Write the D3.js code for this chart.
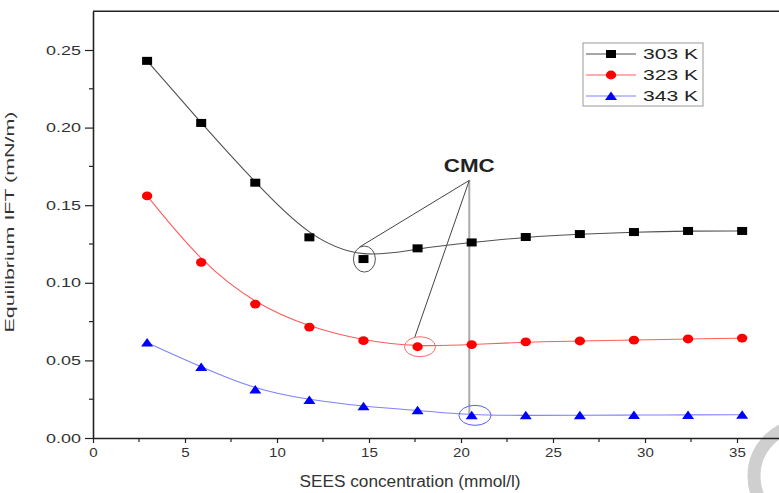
<!DOCTYPE html>
<html>
<head>
<meta charset="utf-8">
<script src="https://cdn.jsdelivr.net/npm/d3@7"></script>
<style>
  body { margin: 0; background: #fff; }
  svg { display: block; font-family: "Liberation Sans", Arial, sans-serif; }
</style>
</head>
<body>
<svg id="chart" width="779" height="493"></svg>
<script>
// data
var conc = [2.94, 5.88, 8.82, 11.76, 14.7, 17.64, 20.58, 23.52, 26.46, 29.4, 32.34, 35.28];
var ift303 = [0.243, 0.203, 0.1645, 0.1293, 0.1153, 0.1222, 0.126, 0.1295, 0.1314, 0.1327, 0.1334, 0.1334];
var ift323 = [0.156, 0.1132, 0.0863, 0.0715, 0.0627, 0.0588, 0.0602, 0.0619, 0.0625, 0.0631, 0.0638, 0.0644];
var ift343 = [0.0615, 0.0457, 0.0313, 0.0245, 0.0204, 0.0178, 0.0146, 0.0146, 0.0146, 0.0148, 0.0149, 0.015];
var seriesNames = ['303 K', '323 K', '343 K'];
var xTicks = [0, 5, 10, 15, 20, 25, 30, 35];
var yTicks = [0, 0.05, 0.10, 0.15, 0.20, 0.25];
// CMC annotation: label anchor and which point of each series is circled
var cmcAnchor = [20.45, 0.166];
var cmcIndex = [4, 5, 6];

var series = [
  {name: seriesNames[0], values: ift303, line: '#505050', fill: '#000', shape: 'square'},
  {name: seriesNames[1], values: ift323, line: '#ff5c5c', fill: '#ff0000', shape: 'circle'},
  {name: seriesNames[2], values: ift343, line: '#8080ff', fill: '#0000ff', shape: 'triangle'}
];

var svg = d3.select('#chart');
var x = d3.scaleLinear().domain([0, 37.5]).range([93, 783]);
var y = d3.scaleLinear().domain([0, 0.275]).range([438, 11.2]);

// faint watermark ring in the corner
svg.append('circle').attr('cx', 805).attr('cy', 476).attr('r', 51)
  .attr('fill', 'none').attr('stroke', '#cfcfcf').attr('stroke-width', 13);

// minor ticks
var g = svg.append('g');
g.selectAll('.ym').data(d3.range(0.025, 0.27, 0.05)).enter().append('line')
  .attr('x1', 89).attr('x2', 93).attr('y1', function(d){ return y(d); }).attr('y2', function(d){ return y(d); })
  .attr('stroke', '#222').attr('stroke-width', 1.2);
g.selectAll('.xm').data(d3.range(2.5, 37, 5)).enter().append('line')
  .attr('x1', function(d){ return x(d); }).attr('x2', function(d){ return x(d); })
  .attr('y1', 438).attr('y2', 442)
  .attr('stroke', '#222').attr('stroke-width', 1.2);

var xAxis = svg.append('g').attr('transform', 'translate(0,438)')
  .call(d3.axisBottom(x).tickValues(xTicks).tickSize(5).tickSizeOuter(0).tickFormat(d3.format('d')));
var yAxis = svg.append('g').attr('transform', 'translate(93,0)')
  .call(d3.axisLeft(y).tickValues(yTicks).tickSize(8).tickSizeOuter(0).tickFormat(d3.format('.2f')));

[xAxis, yAxis].forEach(function(a){
  a.select('.domain').attr('stroke', '#222').attr('stroke-width', 1.6);
  a.selectAll('.tick line').attr('stroke', '#222').attr('stroke-width', 1.2);
  a.selectAll('text').attr('fill', '#333').attr('font-family', '"Liberation Sans", Arial, sans-serif');
});
xAxis.selectAll('text').attr('font-size', 13).attr('y', 10).attr('dy', '0.71em')
  .attr('textLength', function(d){ return String(d).length * 8.4; }).attr('lengthAdjust', 'spacingAndGlyphs');
yAxis.selectAll('text').attr('font-size', 12.5).attr('x', -12)
  .attr('textLength', 35).attr('lengthAdjust', 'spacingAndGlyphs');

// top frame line
svg.append('line').attr('x1', x(0)).attr('x2', x(37.5)).attr('y1', y(0.275)).attr('y2', y(0.275))
  .attr('stroke', '#222').attr('stroke-width', 1.6);

// axis titles
svg.append('text').attr('x', 410).attr('y', 487).attr('text-anchor', 'middle')
  .attr('font-size', 16).attr('fill', '#333')
  .attr('textLength', 221).attr('lengthAdjust', 'spacingAndGlyphs')
  .text('SEES concentration (mmol/l)');
svg.append('text').attr('transform', 'translate(14,222) rotate(-90)').attr('text-anchor', 'middle')
  .attr('font-size', 13).attr('fill', '#333')
  .attr('textLength', 221).attr('lengthAdjust', 'spacingAndGlyphs')
  .text('Equilibrium IFT (mN/m)');

// annotation lines (under markers)
var ann = svg.append('g');
ann.append('line')
  .attr('x1', x(cmcAnchor[0])).attr('y1', y(cmcAnchor[1]))
  .attr('x2', x(cmcAnchor[0])).attr('y2', y(ift343[cmcIndex[2]]))
  .attr('stroke', '#aaa').attr('stroke-width', 2);
ann.append('line')
  .attr('x1', x(cmcAnchor[0])).attr('y1', y(cmcAnchor[1]))
  .attr('x2', x(conc[cmcIndex[0]]) - 4).attr('y2', y(ift303[cmcIndex[0]]) - 12)
  .attr('stroke', '#444').attr('stroke-width', 1);
ann.append('line')
  .attr('x1', x(cmcAnchor[0])).attr('y1', y(cmcAnchor[1]))
  .attr('x2', x(conc[cmcIndex[1]]) - 3).attr('y2', y(ift323[cmcIndex[1]]) - 9)
  .attr('stroke', '#444').attr('stroke-width', 1);

var line = d3.line()
  .x(function(d, i){ return x(conc[i]); })
  .y(function(d){ return y(d); })
  .curve(d3.curveBasis);

series.forEach(function(s){
  svg.append('path').datum(s.values).attr('d', line)
    .attr('fill', 'none').attr('stroke', s.line).attr('stroke-width', 1.1);
});

function drawMarker(sel, shape, color, cx, cy){
  if (shape === 'square') {
    sel.append('rect').attr('x', cx - 5).attr('y', cy - 4).attr('width', 10).attr('height', 8).attr('fill', color);
  } else if (shape === 'circle') {
    sel.append('ellipse').attr('cx', cx).attr('cy', cy).attr('rx', 5.2).attr('ry', 4.4).attr('fill', color);
  } else {
    sel.append('path').attr('d', 'M' + (cx - 6) + ',' + (cy + 4) + 'L' + (cx + 6) + ',' + (cy + 4) + 'L' + cx + ',' + (cy - 4.5) + 'Z')
      .attr('fill', color);
  }
}

series.forEach(function(s){
  var mg = svg.append('g');
  s.values.forEach(function(v, i){ drawMarker(mg, s.shape, s.fill, x(conc[i]), y(v)); });
});

// circled CMC points
var rings = [
  {v: ift303, rx: 11, ry: 13, dx: 0.05, color: '#555'},
  {v: ift323, rx: 15.5, ry: 10, dx: 0.13, color: '#ff6a6a'},
  {v: ift343, rx: 16, ry: 10, dx: 0.18, color: '#5a5aff'}
];
rings.forEach(function(r, k){
  var i = cmcIndex[k];
  svg.append('ellipse').attr('cx', x(conc[i] + r.dx)).attr('cy', y(r.v[i]))
    .attr('rx', r.rx).attr('ry', r.ry).attr('fill', 'none').attr('stroke', r.color).attr('stroke-width', 1);
});

svg.append('text').attr('x', x(cmcAnchor[0])).attr('y', 172).attr('text-anchor', 'middle')
  .attr('font-size', 18).attr('font-weight', 'bold').attr('fill', '#222')
  .attr('textLength', 51).attr('lengthAdjust', 'spacingAndGlyphs')
  .text('CMC');

// legend
var lg = svg.append('g').attr('transform', 'translate(583,43)');
lg.append('rect').attr('width', 120).attr('height', 63).attr('fill', '#fff')
  .attr('stroke', '#999').attr('stroke-width', 1);
series.forEach(function(s, k){
  var ly = 11 + k * 21;
  lg.append('line').attr('x1', 3).attr('x2', 53).attr('y1', ly).attr('y2', ly)
    .attr('stroke', s.line).attr('stroke-width', 1.1);
  drawMarker(lg, s.shape, s.fill, 28, ly);
  lg.append('text').attr('x', 60).attr('y', ly).attr('dy', '0.36em')
    .attr('font-size', 15).attr('fill', '#222')
    .attr('textLength', 55).attr('lengthAdjust', 'spacingAndGlyphs')
    .text(s.name);
});
</script>
</body>
</html>
